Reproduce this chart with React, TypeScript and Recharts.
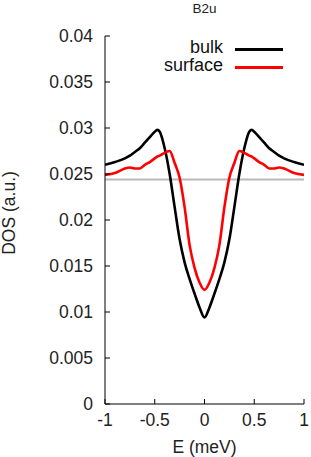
import { Label, Legend, Line, LineChart, ReferenceLine, XAxis, YAxis } from "recharts";

const energy = [
  -1, -0.9, -0.8, -0.75, -0.7, -0.65, -0.6, -0.55, -0.5, -0.475, -0.45, -0.4, -0.35, -0.3, -0.25, -0.2, -0.15, -0.1, -0.05,
  0,
  0.05, 0.1, 0.15, 0.2, 0.25, 0.3, 0.35, 0.4, 0.45, 0.475, 0.5, 0.55, 0.6, 0.65, 0.7, 0.75, 0.8, 0.9, 1,
];

const bulk = [
  0.026, 0.0263, 0.0267, 0.027, 0.0274, 0.0278, 0.0284, 0.029, 0.0296, 0.0298, 0.0296, 0.0278, 0.025, 0.0214, 0.0179, 0.0154, 0.0136, 0.012, 0.0105,
  0.0094,
  0.0105, 0.012, 0.0136, 0.0154, 0.0179, 0.0214, 0.025, 0.0278, 0.0296, 0.0298, 0.0296, 0.029, 0.0284, 0.0278, 0.0274, 0.027, 0.0267, 0.0263, 0.026,
];

const surface = [
  0.0249, 0.0251, 0.0256, 0.0257, 0.0256, 0.0256, 0.026, 0.0263, 0.0267, 0.0269, 0.027, 0.0273, 0.0275, 0.0262, 0.0246, 0.0214, 0.0173, 0.0148, 0.0132,
  0.0124,
  0.0132, 0.0148, 0.0173, 0.0214, 0.0246, 0.0262, 0.0275, 0.0273, 0.027, 0.0269, 0.0267, 0.0263, 0.026, 0.0256, 0.0256, 0.0257, 0.0256, 0.0251, 0.0249,
];

const baseline = 0.0244;

const xTicks = [-1, -0.5, 0, 0.5, 1];
const yTicks = [0, 0.005, 0.01, 0.015, 0.02, 0.025, 0.03, 0.035, 0.04];

const series = [
  { key: "bulk", name: "bulk", color: "#000000" },
  { key: "surface", name: "surface", color: "#ff0000" },
];

const title = "B2u";

const data = energy.map((e, i) => ({ e, bulk: bulk[i], surface: surface[i] }));

const font = "'Liberation Sans', Arial, sans-serif";

function LegendBox() {
  return (
    <div style={{ position: "relative", width: 160, height: 36, fontFamily: font, fontSize: 18, color: "#111" }}>
      {series.map((s, i) => (
        <div key={s.key} style={{ position: "absolute", left: 0, top: i * 18, width: 160, height: 16 }}>
          <span style={{ position: "absolute", right: 77, top: 0, lineHeight: "16px", whiteSpace: "nowrap" }}>{s.name}</span>
          <span style={{ position: "absolute", left: 95, top: 9, width: 48, height: 3, background: s.color }} />
        </div>
      ))}
    </div>
  );
}

export default function App() {
  return (
    <div style={{ position: "absolute", left: 0, top: 0, width: 311, height: 457 }}>
      <div
        style={{
          position: "absolute",
          left: 105,
          top: 1,
          width: 199,
          textAlign: "center",
          fontFamily: font,
          fontSize: 13.5,
          lineHeight: "16px",
          color: "#222",
        }}
      >
        {title}
      </div>
      <LineChart
        width={311}
        height={457}
        data={data}
        margin={{ top: 36, right: 7, left: 10, bottom: 0 }}
        style={{ fontFamily: font }}
      >
        <XAxis
          dataKey="e"
          type="number"
          domain={[-1, 1]}
          ticks={xTicks}
          height={53}
          tickSize={-5}
          tickMargin={15}
          stroke="#000"
          tick={{ fill: "#222", fontSize: 17.5 }}
          allowDataOverflow
        >
          <Label
            value="E (meV)"
            position="insideBottom"
            offset={4}
            style={{ fill: "#222", fontSize: 17.5 }}
          />
        </XAxis>
        <XAxis
          xAxisId="top"
          orientation="top"
          dataKey="e"
          type="number"
          domain={[-1, 1]}
          ticks={xTicks}
          height={0}
          tickSize={-5}
          tick={false}
          stroke="#000"
        />
        <YAxis
          type="number"
          domain={[0, 0.04]}
          ticks={yTicks}
          width={95}
          tickSize={-5}
          tickMargin={17}
          stroke="#000"
          tick={{ fill: "#222", fontSize: 17.5 }}
          allowDataOverflow
        >
          <Label
            content={({ viewBox }: any) => {
              const cy = viewBox.y + viewBox.height / 2 - 7;
              const cx = viewBox.x - 1;
              return (
                <text
                  x={cx}
                  y={cy}
                  transform={`rotate(-90 ${cx} ${cy})`}
                  textAnchor="middle"
                  dominantBaseline="central"
                  style={{ fill: "#222", fontSize: 17.5, fontFamily: font }}
                >
                  DOS (a.u.)
                </text>
              );
            }}
          />
        </YAxis>
        <YAxis
          yAxisId="right"
          orientation="right"
          type="number"
          domain={[0, 0.04]}
          ticks={yTicks}
          width={0}
          tickSize={-5}
          tick={false}
          stroke="#000"
        />
        <ReferenceLine y={baseline} stroke="#b8b8b8" strokeWidth={2} />
        {series.map((s) => (
          <Line
            key={s.key}
            type="monotone"
            dataKey={s.key}
            name={s.name}
            stroke={s.color}
            strokeWidth={2.6}
            dot={false}
            isAnimationActive={false}
          />
        ))}
        <Legend
          layout="vertical"
          align="center"
          verticalAlign="middle"
          wrapperStyle={{ top: 39, left: 140, width: 160, height: 36 }}
          content={() => <LegendBox />}
        />
      </LineChart>
    </div>
  );
}
